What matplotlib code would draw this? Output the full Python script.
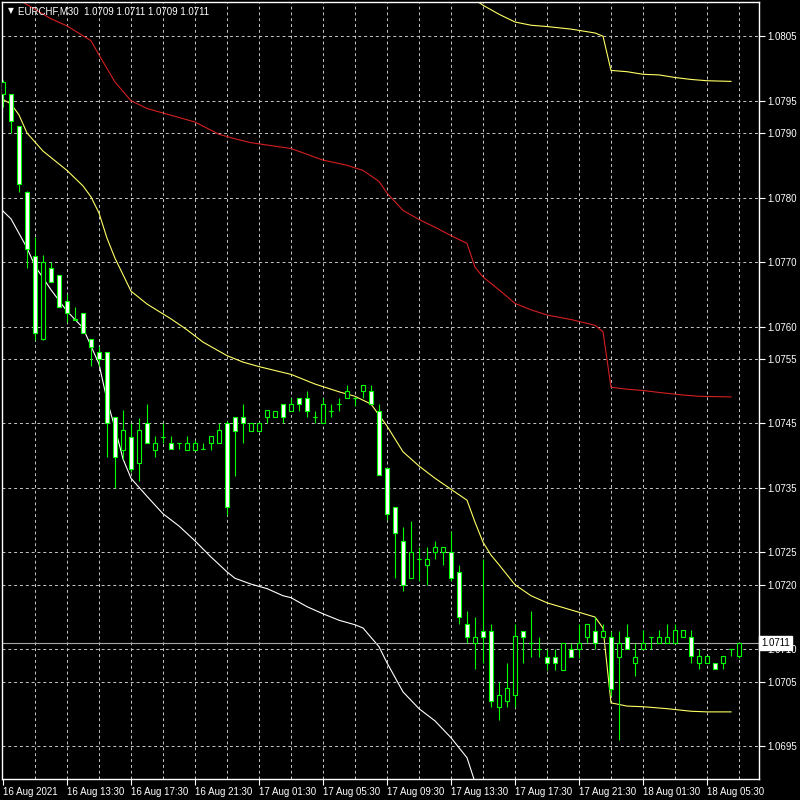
import numpy as np
import matplotlib
matplotlib.use("Agg")
import matplotlib.pyplot as plt
import matplotlib.transforms as mtransforms

# EURCHF M30 candles, bar 0 = 16 Aug 09:30
opens = [
    1.07960, 1.07960, 1.07911, 1.07808, 1.07709, 1.07581, 1.07691, 1.07680, 1.07640, 1.07612,
    1.07621, 1.07581, 1.07561, 1.07561, 1.07460, 1.07409, 1.07429, 1.07389, 1.07451, 1.07409,
    1.07429, 1.07420, 1.07420, 1.07409, 1.07409, 1.07410, 1.07420, 1.07420, 1.07451, 1.07460,
    1.07460, 1.07438, 1.07438, 1.07460, 1.07460, 1.07480, 1.07469, 1.07489, 1.07489, 1.07460,
    1.07451, 1.07469, 1.07480, 1.07489, 1.07489, 1.07500, 1.07500, 1.07469, 1.07381, 1.07320,
    1.07268, 1.07210, 1.07240, 1.07231, 1.07251, 1.07251, 1.07251, 1.07220, 1.07139, 1.07110,
    1.07128, 1.07128, 1.07011, 1.07020, 1.07029, 1.07128, 1.07110, 1.07100, 1.07088, 1.07088,
    1.07068, 1.07100, 1.07100, 1.07119, 1.07128, 1.07119, 1.07119, 1.07088, 1.07119, 1.07079,
    1.07100, 1.07119, 1.07110, 1.07110, 1.07110, 1.07119, 1.07119, 1.07079, 1.07079, 1.07079,
    1.07079, 1.07100, 1.07090]
highs = [
    1.07982, 1.07960, 1.07911, 1.07810, 1.07739, 1.07711, 1.07700, 1.07680, 1.07650, 1.07630,
    1.07621, 1.07581, 1.07570, 1.07561, 1.07460, 1.07471, 1.07451, 1.07458, 1.07480, 1.07430,
    1.07451, 1.07430, 1.07420, 1.07430, 1.07425, 1.07420, 1.07430, 1.07451, 1.07453, 1.07460,
    1.07480, 1.07451, 1.07451, 1.07471, 1.07469, 1.07480, 1.07489, 1.07489, 1.07500, 1.07469,
    1.07489, 1.07480, 1.07489, 1.07509, 1.07489, 1.07509, 1.07509, 1.07480, 1.07381, 1.07320,
    1.07289, 1.07299, 1.07258, 1.07258, 1.07268, 1.07258, 1.07283, 1.07231, 1.07159, 1.07150,
    1.07240, 1.07139, 1.07049, 1.07079, 1.07139, 1.07128, 1.07159, 1.07119, 1.07100, 1.07100,
    1.07110, 1.07110, 1.07139, 1.07139, 1.07150, 1.07139, 1.07128, 1.07128, 1.07139, 1.07110,
    1.07130, 1.07119, 1.07130, 1.07139, 1.07139, 1.07130, 1.07130, 1.07100, 1.07090, 1.07079,
    1.07090, 1.07100, 1.07110]
lows = [
    1.07940, 1.07900, 1.07808, 1.07691, 1.07579, 1.07579, 1.07669, 1.07630, 1.07607, 1.07610,
    1.07590, 1.07539, 1.07539, 1.07398, 1.07350, 1.07395, 1.07375, 1.07361, 1.07420, 1.07398,
    1.07420, 1.07410, 1.07410, 1.07409, 1.07409, 1.07410, 1.07409, 1.07420, 1.07308, 1.07368,
    1.07420, 1.07438, 1.07438, 1.07451, 1.07460, 1.07451, 1.07469, 1.07469, 1.07460, 1.07451,
    1.07451, 1.07460, 1.07469, 1.07489, 1.07477, 1.07489, 1.07480, 1.07370, 1.07300, 1.07210,
    1.07190, 1.07210, 1.07206, 1.07200, 1.07240, 1.07231, 1.07206, 1.07139, 1.07110, 1.07070,
    1.07079, 1.07011, 1.06990, 1.07011, 1.07011, 1.07079, 1.07088, 1.07088, 1.07068, 1.07068,
    1.07068, 1.07088, 1.07087, 1.07110, 1.07100, 1.07119, 1.07028, 1.06960, 1.07100, 1.07059,
    1.07100, 1.07100, 1.07110, 1.07110, 1.07110, 1.07119, 1.07079, 1.07070, 1.07079, 1.07070,
    1.07070, 1.07090, 1.07087]
closes = [
    1.07979, 1.07918, 1.07821, 1.07720, 1.07590, 1.07700, 1.07669, 1.07630, 1.07621, 1.07610,
    1.07590, 1.07568, 1.07550, 1.07451, 1.07398, 1.07440, 1.07379, 1.07440, 1.07420, 1.07420,
    1.07429, 1.07410, 1.07420, 1.07420, 1.07420, 1.07410, 1.07430, 1.07440, 1.07320, 1.07438,
    1.07451, 1.07451, 1.07451, 1.07471, 1.07469, 1.07460, 1.07480, 1.07480, 1.07469, 1.07460,
    1.07480, 1.07469, 1.07480, 1.07500, 1.07489, 1.07509, 1.07480, 1.07370, 1.07310, 1.07280,
    1.07200, 1.07251, 1.07240, 1.07240, 1.07258, 1.07258, 1.07210, 1.07150, 1.07119, 1.07119,
    1.07119, 1.07020, 1.07029, 1.07040, 1.07121, 1.07119, 1.07110, 1.07100, 1.07079, 1.07079,
    1.07110, 1.07088, 1.07110, 1.07139, 1.07110, 1.07128, 1.07039, 1.07110, 1.07100, 1.07088,
    1.07110, 1.07119, 1.07119, 1.07119, 1.07130, 1.07130, 1.07090, 1.07090, 1.07090, 1.07070,
    1.07090, 1.07100, 1.07110]

# indicator lines (bar index, price)
red_bars = [2, 3, 6, 8, 11, 12, 14, 16, 18, 20, 24, 27, 29, 31, 36, 40, 43, 45, 47, 48,
            50, 52, 54, 56, 58, 59, 60, 62, 64, 66, 68, 71, 74, 75, 76, 78, 80, 82, 85, 87, 91]
red_vals = [1.08106, 1.08099, 1.08077, 1.08066, 1.08043, 1.08021, 1.07979, 1.07950, 1.07938,
            1.07931, 1.07917, 1.07898, 1.07891, 1.07885, 1.07876, 1.07858, 1.07850, 1.07842,
            1.07825, 1.07807, 1.07780, 1.07766, 1.07754, 1.07741, 1.07729, 1.07692, 1.07677,
            1.07657, 1.07636, 1.07626, 1.07618, 1.07611, 1.07602, 1.07592, 1.07506, 1.07503,
            1.07501, 1.07498, 1.07494, 1.07492, 1.07491]

upper_bars = [58, 60, 62, 64, 66, 68, 71, 74, 75, 76, 78, 80, 82, 84, 86, 88, 91]
upper_vals = [1.08115, 1.08098, 1.08084, 1.08072, 1.08067, 1.08065, 1.08061, 1.08055, 1.08050,
              1.07997, 1.07995, 1.07991, 1.07990, 1.07986, 1.07983, 1.07981, 1.07980]

mid_bars = [0, 1, 2, 3, 5, 8, 10, 11, 12, 13, 14, 16, 18, 21, 23, 25, 28, 30, 32, 36, 39, 42,
            44, 46, 48, 50, 52, 54, 56, 58, 59, 60, 61, 62, 64, 66, 68, 71, 74, 75, 76, 78,
            80, 83, 86, 88, 91]
mid_vals = [1.07952, 1.07945, 1.07928, 1.07900, 1.07872, 1.07842, 1.07818, 1.07801, 1.07776,
            1.07737, 1.07706, 1.07655, 1.07635, 1.07612, 1.07595, 1.07576, 1.07555, 1.07545,
            1.07538, 1.07526, 1.07511, 1.07499, 1.07492, 1.07480, 1.07446, 1.07406, 1.07384,
            1.07365, 1.07348, 1.07331, 1.07297, 1.07266, 1.07246, 1.07231, 1.07200, 1.07183,
            1.07172, 1.07161, 1.07150, 1.07133, 1.07017, 1.07012, 1.07011, 1.07008, 1.07004,
            1.07003, 1.07003]

low_bars = [0, 1, 3, 4, 6, 8, 10, 11, 12, 13, 14, 15, 16, 18, 20, 22, 24, 26, 28, 29, 31, 33,
            35, 36, 38, 40, 42, 44, 45, 47, 48, 50, 52, 54, 56, 58, 59]
low_vals = [1.07779, 1.07767, 1.07722, 1.07694, 1.07657, 1.07624, 1.07598, 1.07570, 1.07542,
            1.07486, 1.07443, 1.07395, 1.07365, 1.07337, 1.07310, 1.07291, 1.07268, 1.07243,
            1.07220, 1.07210, 1.07201, 1.07194, 1.07183, 1.07180, 1.07166, 1.07155, 1.07145,
            1.07138, 1.07133, 1.07104, 1.07079, 1.07034, 1.07008, 1.06989, 1.06963, 1.06932,
            1.06894]

price_ticks = [1.0805, 1.0795, 1.0790, 1.0780, 1.0770, 1.0760, 1.0755, 1.0745, 1.0735,
               1.0725, 1.0720, 1.0710, 1.0705, 1.0695]
time_labels = ["16 Aug 2021", "16 Aug 13:30", "16 Aug 17:30", "16 Aug 21:30", "17 Aug 01:30",
               "17 Aug 05:30", "17 Aug 09:30", "17 Aug 13:30", "17 Aug 17:30", "17 Aug 21:30",
               "18 Aug 01:30", "18 Aug 05:30"]
last_price = 1.0711

plt.rcParams['font.family'] = ['Liberation Sans', 'DejaVu Sans']

fig = plt.figure(figsize=(8, 8), dpi=100, facecolor='black')
ax = fig.add_axes([2/800, 21/800, 757/800, 777/800])
ax.set_facecolor('black')

o = np.array(opens)
h = np.array(highs)
l = np.array(lows)
c = np.array(closes)
x = np.arange(len(o))

# grid
grid_kw = dict(color='#c8c8c8', lw=0.7, linestyle=(0, (3, 3)), zorder=0)
for p in price_ticks:
    ax.axhline(p, **grid_kw)
for b in range(4, 93, 4):
    ax.axvline(b, **grid_kw)

# indicator lines
ax.plot(red_bars, red_vals, color='#d42020', lw=0.8, zorder=1)
ax.plot(upper_bars, upper_vals, color='#ffff66', lw=0.8, zorder=1)
ax.plot(mid_bars, mid_vals, color='#ffff66', lw=0.8, zorder=1)
ax.plot(low_bars, low_vals, color='white', lw=0.8, zorder=1)

# last price line
ax.axhline(last_price, color='#a8a8a8', lw=0.8, zorder=1)

# candles
green = '#00ff00'
ax.vlines(x, l, h, color=green, lw=0.8, zorder=2)
body_w = 0.62
up = c >= o
fill = np.where(up, 'black', 'white')
ax.bar(x, np.abs(c - o), bottom=np.minimum(o, c), width=body_w, color=fill,
       edgecolor=green, linewidth=0.8, zorder=3)
doji = np.abs(c - o) < 0.000015
ax.hlines(o[doji], x[doji] - body_w/2, x[doji] + body_w/2, color=green, lw=0.8, zorder=3)

ax.set_xlim(-0.125, 94.5)
ax.set_ylim(1.06899, 1.08103)

# axes styling
for s in ax.spines.values():
    s.set_color('white')
    s.set_linewidth(1)
ax.yaxis.tick_right()
ax.set_yticks(price_ticks)
ax.set_yticklabels(["%.4f" % p for p in price_ticks])
ax.tick_params(axis='y', colors='white', labelcolor='white', length=4, width=0.8,
               pad=2, labelsize=7)
ax.set_xticks(range(0, 89, 8))
ax.set_xticklabels(time_labels, ha='left')
ax.tick_params(axis='x', colors='white', labelcolor='white', length=4, width=0.8,
               pad=2, labelsize=7)

# price tag on the right
trans = mtransforms.blended_transform_factory(ax.transAxes, ax.transData)
ax.text(1.003, last_price, "%.4f" % last_price, transform=trans, color='black',
        fontsize=7, va='center', ha='left', zorder=10, clip_on=False,
        bbox=dict(boxstyle='square,pad=0.2', fc='white', ec='white'))

# header
fig.text(8/800, 1 - 11/800, "\u25bc", color='white', fontsize=5.5, va='center',
         family='DejaVu Sans')
fig.text(18/800, 1 - 11/800, "EURCHF,M30  1.0709 1.0711 1.0709 1.0711", color='white',
         fontsize=7, va='center')

fig.savefig('out.png', dpi=100, facecolor='black')
